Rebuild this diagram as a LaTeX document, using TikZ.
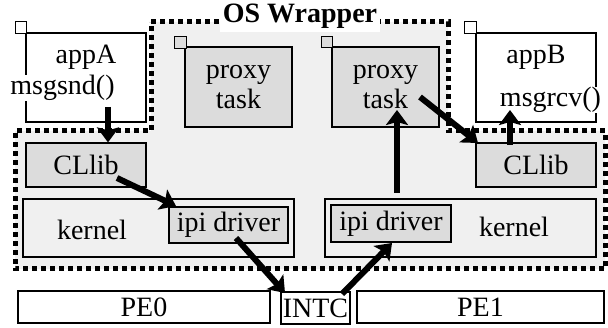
\documentclass[tikz,border=0pt]{standalone}
\usepackage{fontspec}
\setmainfont{Liberation Serif}
\usetikzlibrary{arrows.meta}
\definecolor{wrapgray}{HTML}{F0F0F0}
\definecolor{boxgray}{HTML}{DCDCDC}
\tikzset{
  box/.style={draw=black, line width=1.2pt, rectangle, inner sep=0pt},
  graybox/.style={box, fill=boxgray},
  whitebox/.style={box, fill=white},
  kernbox/.style={box, fill=wrapgray},
  corner/.style={box, minimum width=11.5pt, minimum height=11.5pt},
  lbl/.style={inner sep=1pt, font=\fontsize{28}{30}\selectfont, align=center},
  arr/.style={line width=6pt, -{Stealth[length=15pt,width=22pt,inset=3pt]}},
  wrap/.style={line width=5pt, dash pattern=on 5pt off 4pt, fill=wrapgray}
}
\begin{document}
\begin{tikzpicture}[x=1pt,y=-1pt]
\useasboundingbox (0,0) rectangle (608,328);
% OS wrapper region
\draw[wrap] (151,22) -- (448,22) -- (448,131) -- (605,131) -- (605,269) -- (15,269) -- (15,131) -- (151,131) -- cycle;
\node[fill=white, inner sep=0pt, minimum width=160pt, minimum height=32pt,
      font=\fontsize{28}{30}\selectfont\bfseries] (title) at (300,16) {OS Wrapper};
% application boxes
\node[whitebox, minimum width=120pt, minimum height=89pt] (appA) at (86,77.5) {};
\node[corner, fill=white] (sqA) at (21,27.5) {};
\node[whitebox, minimum width=120pt, minimum height=89pt] (appB) at (536,77.5) {};
\node[corner, fill=white] (sqB) at (470.5,27.5) {};
% proxy tasks
\node[graybox, minimum width=107pt, minimum height=80pt] (proxyL) at (238.5,87) {};
\node[corner, fill=boxgray] (sqPL) at (180.5,42.5) {};
\node[graybox, minimum width=107pt, minimum height=80pt] (proxyR) at (385.5,87) {};
\node[corner, fill=boxgray] (sqPR) at (327,42) {};
% CLlib
\node[graybox, minimum width=120pt, minimum height=44pt] (clL) at (86,165) {};
\node[graybox, minimum width=120pt, minimum height=44pt] (clR) at (536,165) {};
% kernels
\node[kernbox, minimum width=271pt, minimum height=58pt] (kerL) at (158.5,228) {};
\node[graybox, minimum width=119pt, minimum height=36pt] (ipiL) at (228.5,225) {};
\node[kernbox, minimum width=271pt, minimum height=58pt] (kerR) at (460.5,228) {};
\node[graybox, minimum width=120pt, minimum height=37pt] (ipiR) at (391,223.5) {};
% hardware
\node[whitebox, minimum width=252pt, minimum height=32pt] (pe0) at (144,307) {};
\node[whitebox, minimum width=69pt, minimum height=32pt] (intc) at (315.5,308) {};
\node[whitebox, minimum width=247pt, minimum height=32pt] (pe1) at (480.5,307) {};
% texts
\node[lbl] (tappA) at (86,57) {appA};
\node[lbl, fill=white, inner sep=0pt] (tsnd) at (62.5,88) {msgsnd()};
\node[lbl] (tappB) at (536,57) {appB};
\node[lbl, fill=white, inner sep=0pt] (trcv) at (550.5,100) {msgrcv()};
\node[lbl] (tproxyL) at (proxyL.center) {proxy\\task};
\node[lbl] (tproxyR) at (proxyR.center) {proxy\\task};
\node[lbl] (tclL) at (clL.center) {CLlib};
\node[lbl] (tclR) at (clR.center) {CLlib};
\node[lbl] (tkerL) at (92,230) {kernel};
\node[lbl] (tkerR) at (514,227) {kernel};
\node[lbl] (tipiL) at (ipiL.center) {ipi driver};
\node[lbl] (tipiR) at (ipiR.center) {ipi driver};
\node[lbl] (tpe0) at (pe0.center) {PE0};
\node[lbl] (tintc) at (intc.center) {INTC};
\node[lbl] (tpe1) at (pe1.center) {PE1};
% connector end points
\coordinate (a1s) at (108,107);
\coordinate (a2s) at (117,178);
\coordinate (a2e) at (176,206);
\coordinate (a3s) at (236,238);
\coordinate (a3e) at (285,293);
\coordinate (a4s) at (342,294);
\coordinate (a4e) at (392,243);
\coordinate (a5s) at (397,193);
\coordinate (a5e) at (397,110);
\coordinate (a6s) at (420,97);
\coordinate (a6e) at (478,143);
\coordinate (a7s) at (510,145);
\coordinate (a7e) at (510,110);
% arrows
\draw[arr] (a1s) -- (a1s |- clL.north);
\draw[arr] (a2s) -- (a2e);
\draw[arr] (a3s) -- (a3e);
\draw[arr] (a4s) -- (a4e);
\draw[arr] (a5s) -- (a5e);
\draw[arr] (a6s) -- (a6e);
\draw[arr] (a7s) -- (a7e);
\end{tikzpicture}
\end{document}
